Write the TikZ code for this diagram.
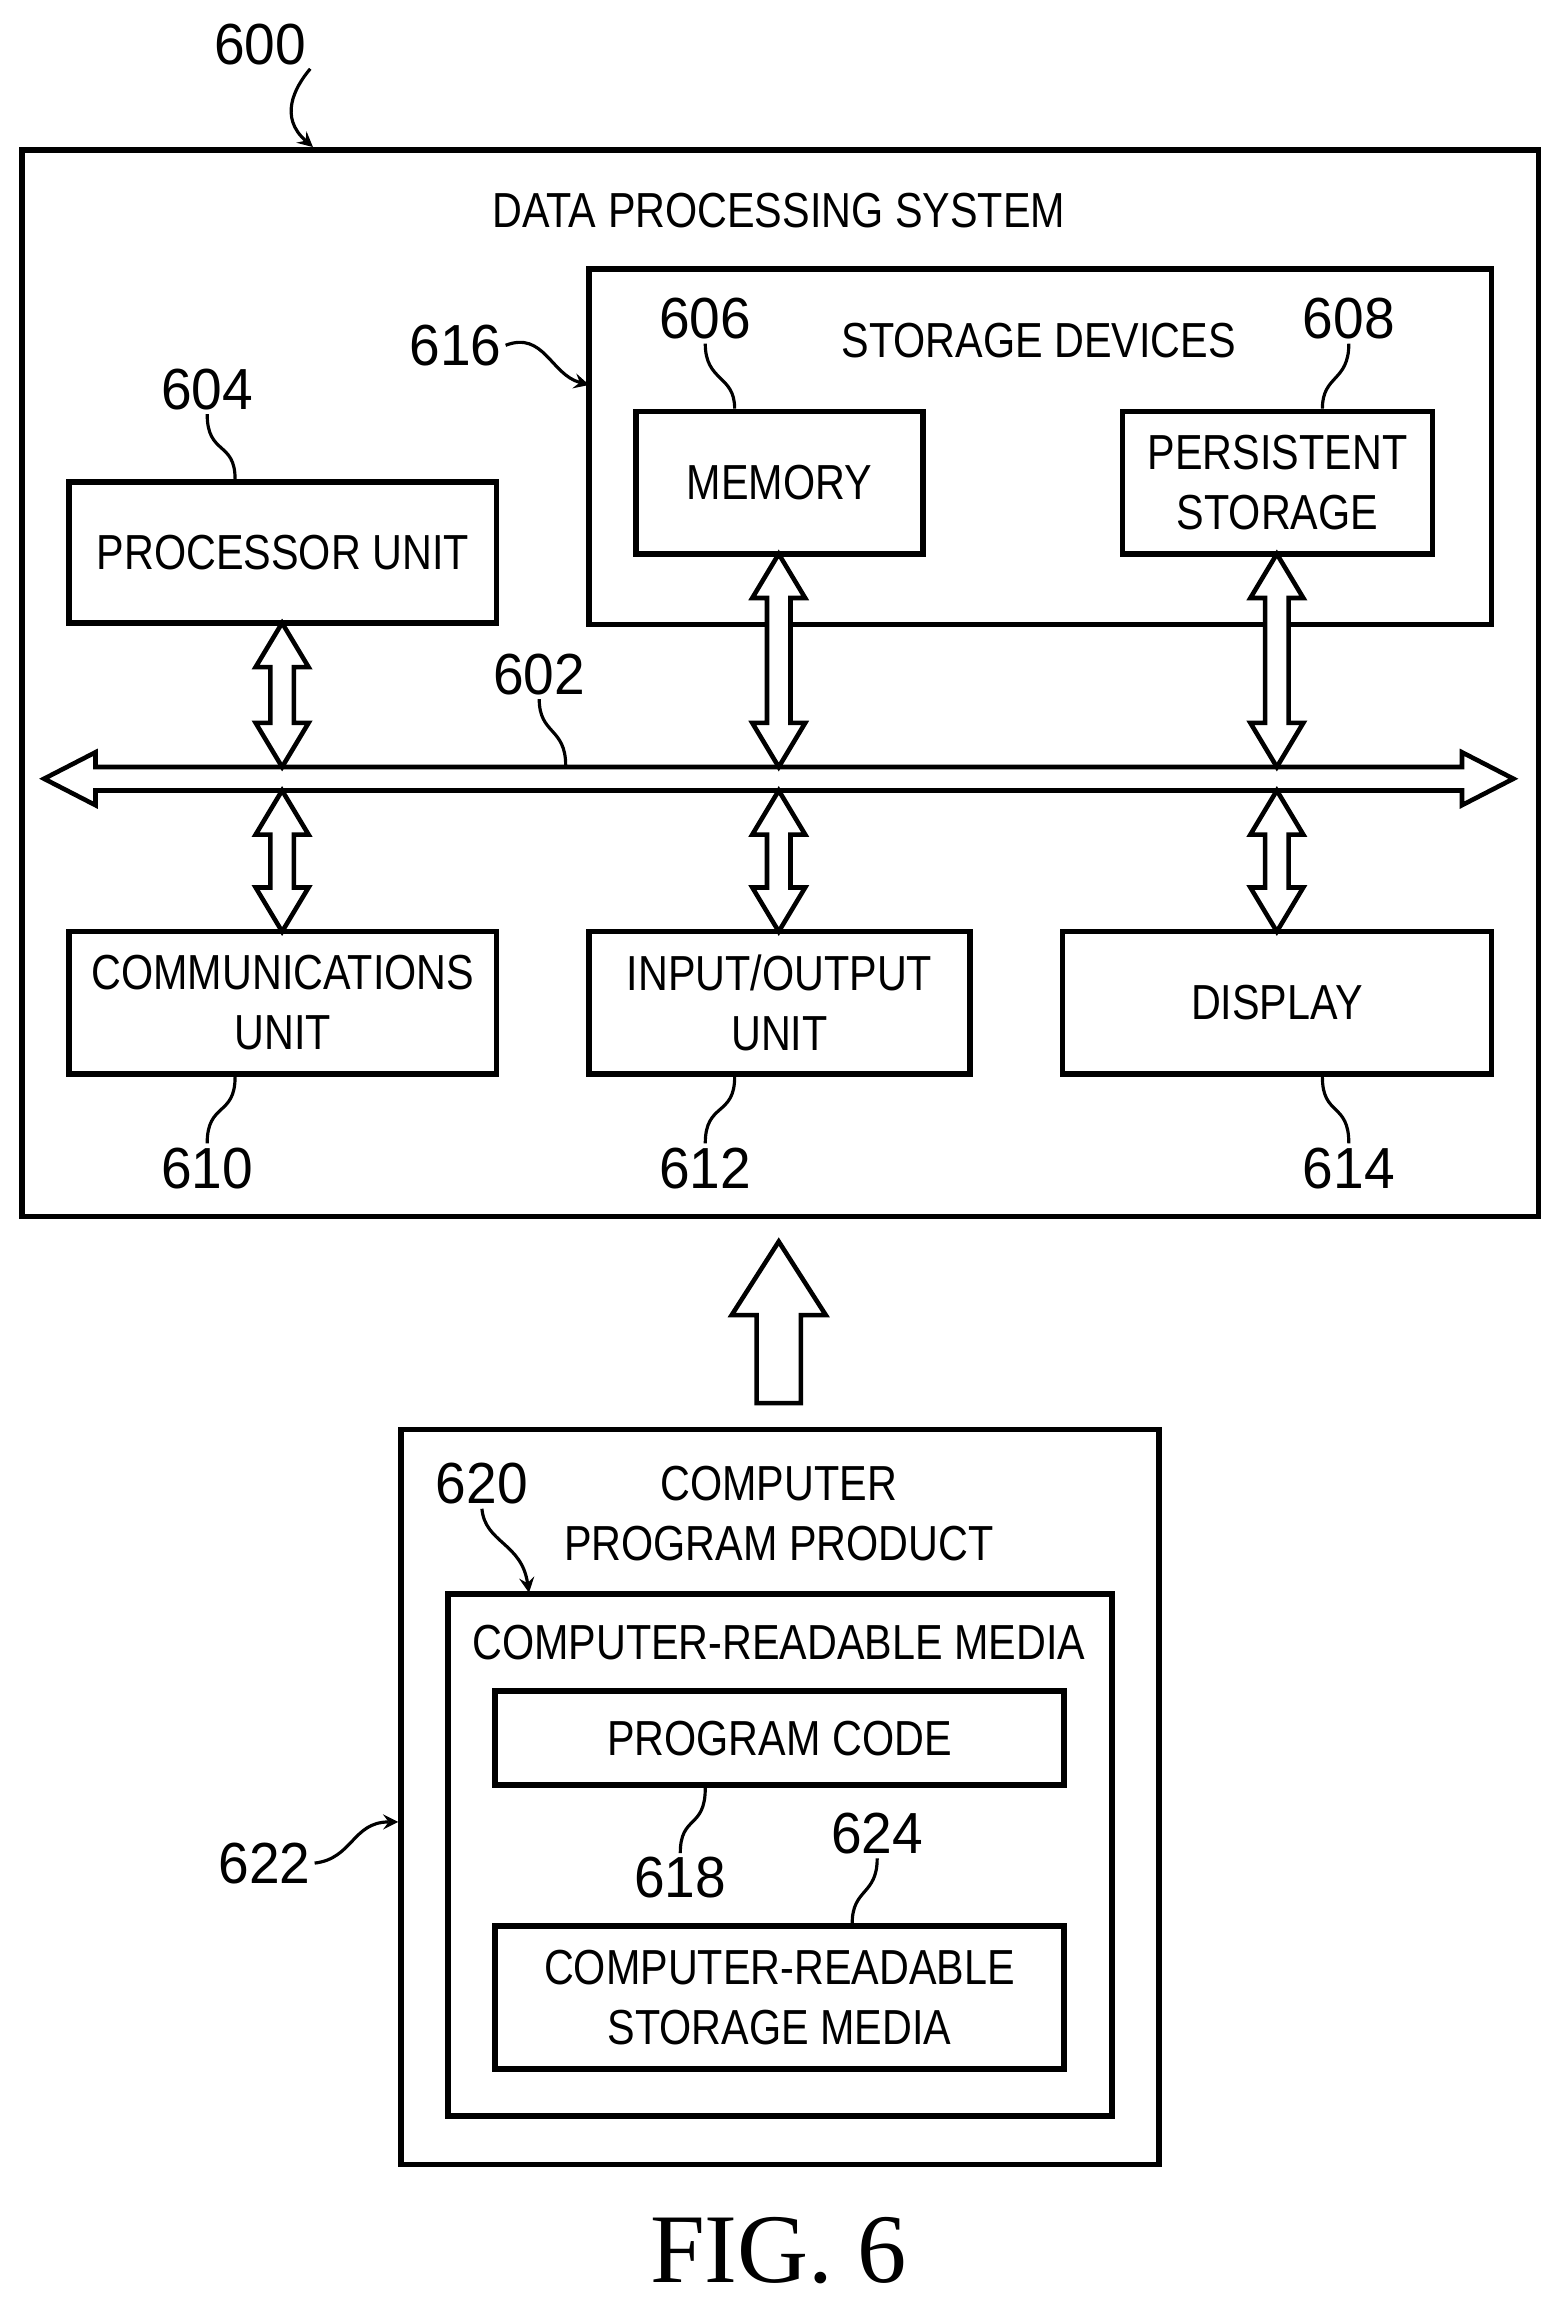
\documentclass[tikz,border=0pt]{standalone}
\usepackage{fontspec}
\setmainfont[FakeStretch=0.84]{Liberation Sans}
\newfontfamily\numfont[FakeStretch=0.95]{Liberation Sans}
\newfontfamily\figfont{Liberation Serif}
\usetikzlibrary{calc}

\tikzset{
  box/.style={draw, line width=1.6pt, inner sep=0pt, align=center},
  txt/.style={font=\fontsize{14}{17}\selectfont, align=center, inner sep=0pt},
  num/.style={font=\numfont\fontsize{16.5}{19}\selectfont, inner sep=1pt},
  lead/.style={line width=0.9pt},
  fat/.style={draw, line width=1.3pt, fill=white, line join=miter},
}
% box from two corners (x1,y1,x2,y2)
\newcommand\bx[5]{\path (#2,#3) -- (#4,#5) node[midway, box,
  minimum width={(#4-#2)*0.01469cm}, minimum height={(#5-#3)*0.01469cm}] (#1) {};}
% vertical double fat arrow: x, top, bottom
\newcommand\vdbl[3]{\draw[fat] (#1,#2) -- (#1+18,#2+30) -- (#1+8,#2+30) -- (#1+8,#3-30)
  -- (#1+18,#3-30) -- (#1,#3) -- (#1-18,#3-30) -- (#1-8,#3-30) -- (#1-8,#2+30)
  -- (#1-18,#2+30) -- cycle;}

\begin{document}
\begin{tikzpicture}[x=0.01469cm, y=-0.01469cm]
  \useasboundingbox (0,0) rectangle (1060,1564);

  % data processing system
  \bx{dps}{15}{102}{1047}{828}
  \node[txt] (dpst) at (530,143) {DATA PROCESSING SYSTEM};
  \node[num] (n600) at (177,30) {600};
  \draw[lead, ->, >=stealth] (n600.south east) .. controls (200,60) and (190,80) .. (dps.north west -| 213,0);

  \bx{sto}{401}{183}{1015}{425}
  \node[txt] (stot) at (707,232) {STORAGE DEVICES};
  \node[num] (n616) at (310,235) {616};
  \draw[lead, ->, >=stealth] (n616.east) .. controls (370,225) and (375,255) .. (401,262);

  \bx{mem}{433}{280}{628}{377}
  \node[txt] at (mem) {MEMORY};
  \node[num] (n606) at (480,217) {606};
  \draw[lead] (n606.south) .. controls (480,260) and (500,255) .. (mem.north -| 500,0);

  \bx{per}{764}{280}{975}{377}
  \node[txt] at (per) {PERSISTENT\\STORAGE};
  \node[num] (n608) at (918,217) {608};
  \draw[lead] (n608.south) .. controls (918,260) and (900,255) .. (per.north -| 900,0);

  \bx{proc}{47}{328}{338}{424}
  \node[txt] at (proc) {PROCESSOR UNIT};
  \node[num] (n604) at (141,265) {604};
  \draw[lead] (n604.south) .. controls (141,310) and (160,300) .. (proc.north -| 160,0);

  \bx{comm}{47}{634}{338}{731}
  \node[txt] at (comm) {COMMUNICATIONS\\UNIT};
  \node[num] (n610) at (141,795) {610};
  \draw[lead] (n610.north) .. controls (141,750) and (160,760) .. (comm.south -| 160,0);

  \bx{io}{401}{634}{660}{731}
  \node[txt] at (io) {INPUT/OUTPUT\\UNIT};
  \node[num] (n612) at (480,795) {612};
  \draw[lead] (n612.north) .. controls (480,750) and (500,760) .. (io.south -| 500,0);

  \bx{disp}{723}{634}{1015}{731}
  \node[txt] at (disp) {DISPLAY};
  \node[num] (n614) at (918,795) {614};
  \draw[lead] (n614.north) .. controls (918,750) and (900,760) .. (disp.south -| 900,0);

  % bus
  \draw[fat] (30,530) -- (65,512) -- (65,522) -- (995,522) -- (995,512) -- (1030,530)
    -- (995,548) -- (995,538) -- (65,538) -- (65,548) -- cycle;
  \node[num] (n602) at (367,459) {602};
  \draw[lead] (n602.south) .. controls (367,500) and (385,495) .. (385,521);

  \foreach \x in {192,530,869} {\vdbl{\x}{538}{634}}
  \vdbl{192}{424}{522}
  \vdbl{530}{377}{522}
  \vdbl{869}{377}{522}

  % transfer arrow
  \draw[fat] (530,845) -- (562,895) -- (545,895) -- (545,955) -- (515,955)
    -- (515,895) -- (498,895) -- cycle;

  % computer program product
  \bx{cpp}{273}{973}{789}{1473}
  \node[txt] (cppt) at (530,1030) {COMPUTER\\PROGRAM PRODUCT};
  \node[num] (n620) at (328,1010) {620};
  \draw[lead, ->, >=stealth] (n620.south) .. controls (330,1050) and (355,1050) .. (360,1084);

  \bx{crm}{305}{1085}{757}{1440}
  \node[txt] (crmt) at (530,1118) {COMPUTER-READABLE MEDIA};

  \bx{code}{337}{1151}{724}{1215}
  \node[txt] at (code) {PROGRAM CODE};
  \node[num] (n618) at (463,1278) {618};
  \draw[lead] (n618.north) .. controls (463,1235) and (480,1245) .. (code.south -| 480,0);

  \bx{crsm}{337}{1311}{724}{1408}
  \node[txt] at (crsm) {COMPUTER-READABLE\\STORAGE MEDIA};
  \node[num] (n624) at (597,1248) {624};
  \draw[lead] (n624.south) .. controls (597,1290) and (580,1285) .. (crsm.north -| 580,0);

  \node[num] (n622) at (180,1268) {622};
  \draw[lead, ->, >=stealth] (n622.east) .. controls (240,1265) and (240,1240) .. (cpp.west |- 0,1240);

  \node[font=\figfont\fontsize{28}{30}\selectfont] (fig) at (530,1532) {FIG. 6};
\end{tikzpicture}
\end{document}
